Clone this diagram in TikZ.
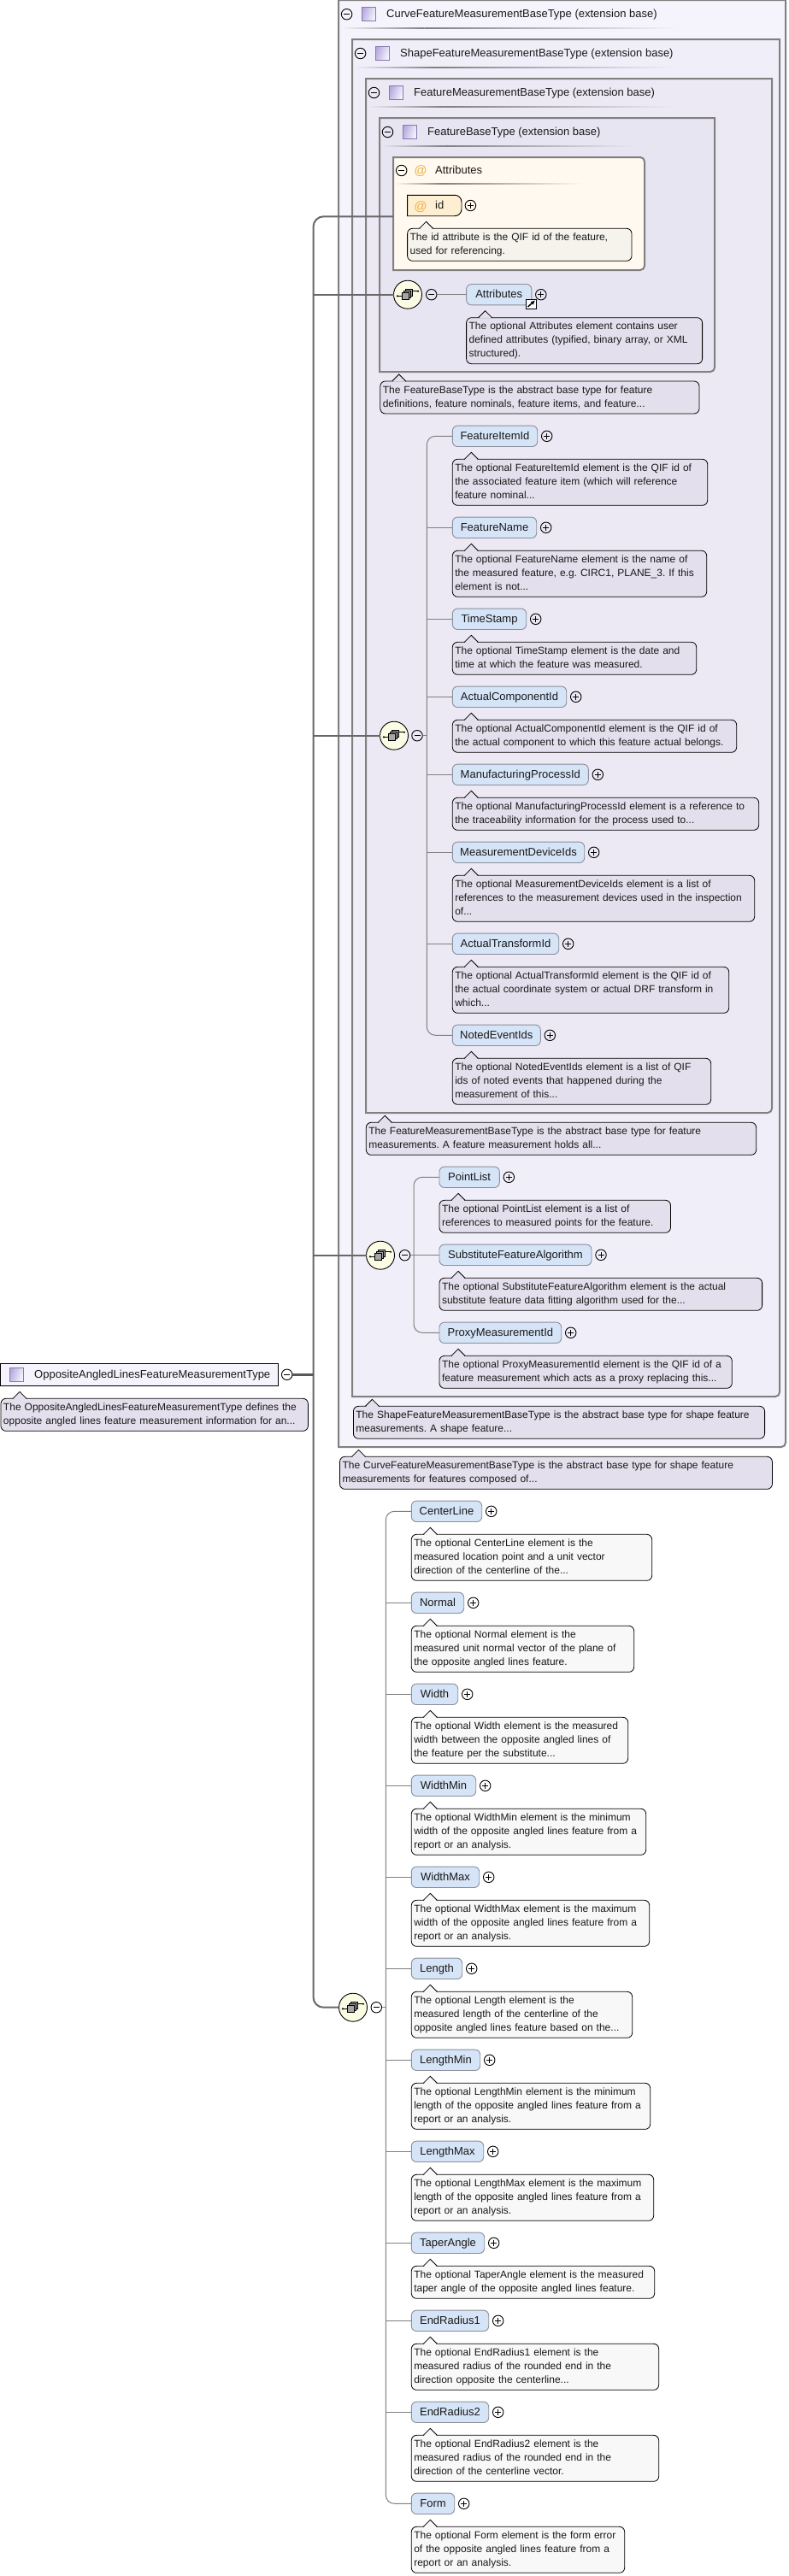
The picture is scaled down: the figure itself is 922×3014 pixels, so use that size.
\documentclass[tikz,border=0pt]{standalone}
\usepackage{amsmath, amsfonts, amssymb}
\usepackage{fontspec}
\setmainfont{Liberation Sans}
\frenchspacing
\usepackage{tikz}
\usetikzlibrary{arrows.meta,calc,positioning}

\definecolor{curvefill}{HTML}{F5F3FB}
\definecolor{shapefill}{HTML}{F0EEF8}
\definecolor{measurefill}{HTML}{ECE9F5}
\definecolor{basefill}{HTML}{E8E5F2}
\definecolor{attrfill}{HTML}{FFF9EF}
\definecolor{idfill}{HTML}{FEEED2}
\definecolor{elemfill}{HTML}{D6E4F7}
\definecolor{elemline}{HTML}{8A8F9A}
\definecolor{boxline}{HTML}{808080}
\definecolor{trunkline}{HTML}{686868}
\definecolor{seqfill}{HTML}{FCFCE4}
\definecolor{atcolor}{HTML}{F0B040}
\definecolor{notefill}{HTML}{E4DFEC}
\definecolor{iconline}{HTML}{8878B0}
\definecolor{icondark}{HTML}{B6A9DE}
\definecolor{iconlight}{HTML}{F6F4FC}

\tikzset{
    txt/.style={font=\fontsize{12}{16}\selectfont,text=black!90},
    headtext/.style={font=\fontsize{13}{16}\selectfont,text=black!90,anchor=west,inner sep=0pt,text height=10pt,text depth=2pt},
    minusbtn/.style={circle,draw=black,line width=0.9pt,minimum size=12.5pt,inner sep=0pt,
        path picture={\draw[line width=0.9pt] ([xshift=-3.5pt]path picture bounding box.center) -- ([xshift=3.5pt]path picture bounding box.center);}},
    plusbtn/.style={minusbtn,
        path picture={\draw[line width=0.9pt] ([xshift=-3.5pt]path picture bounding box.center) -- ([xshift=3.5pt]path picture bounding box.center);
            \draw[line width=0.9pt] ([yshift=-3.5pt]path picture bounding box.center) -- ([yshift=3.5pt]path picture bounding box.center);}},
    typeicon/.style={rectangle,draw=iconline,left color=icondark,right color=iconlight,shading angle=70,
        minimum size=16pt,inner sep=0pt},
    elembox/.style={headtext,rectangle,draw=elemline,fill=elemfill,rounded corners=6pt,line width=0.9pt,
        minimum height=24.4pt,inner xsep=0pt,inner ysep=0pt,outer sep=0pt},
    notebox/.style={txt,rectangle,draw=black,fill=notefill,rounded corners=6pt,line width=0.8pt,anchor=north west,
        inner xsep=3pt,inner ysep=3pt,outer sep=0pt,align=left,
        execute at begin node=\strut,execute at end node=\strut},
    noteline/.style={draw=black,line width=0.8pt},
    typebox/.style={draw=boxline,line width=2pt},
    seqnode/.style={circle,draw=black,fill=seqfill,line width=0.9pt,minimum size=33pt,inner sep=0pt,outer sep=0pt},
    trunk/.style={draw=trunkline,line width=2pt},
    rootstub/.style={draw=trunkline!85!black,line width=3.5pt},
    branch/.style={draw=boxline,line width=1pt},
    atsign/.style={font=\fontsize{15}{16}\selectfont,text=atcolor,inner sep=0pt},
    linkicon/.style={rectangle,draw=black,fill=white,line width=1pt,minimum width=12pt,minimum height=11pt,inner sep=0pt},
}

\newcommand{\Note}[5]{%
    \node[notebox,text width=#4-#2-6] (#1) at (#2,#3) {#5};
    \fill[notefill] ($(#1.north west)+(14.5,0.7)$) -- ++(7.5,-8.7) -- ++(7.5,8.7) -- cycle;
    \draw[noteline] ($(#1.north west)+(14,0)$) -- ++(8,-8) -- ++(8,8);
}
\newcommand{\Elem}[7]{%
    \node[elembox,minimum width=#5-#3] (#1) at (#3,#4) {#2};
    \node[plusbtn] (#1plus) at (#5+11,#4) {};
    \Note{#1note}{#3}{#4+27}{#6}{#7}
}
\newcommand{\HeadRule}[4]{%
    \shade[left color=#4,right color=black!50] (#1,#3-0.8) rectangle ({#1+0.25*(#2-#1)},#3+0.8);
    \shade[left color=black!50,right color=#4] ({#1+0.25*(#2-#1)},#3-0.8) rectangle (#2,#3+0.8);
}
\newcommand{\SeqIcon}[1]{%
    \begin{scope}[shift={(#1.center)}]
        \draw[line width=0.9pt] (-12,1.7) -- (-7,1.7);
        \fill (-12,1.7) circle (1.2);
        \draw[line width=0.9pt] (5,-4) -- (12,-4);
        \fill (12,-4) circle (1.2);
        \draw[line width=0.8pt,fill=black!35] (-3,-6.5) rectangle (5,2);
        \draw[line width=0.8pt,fill=black!35] (-5,-4.5) rectangle (3,4);
        \draw[line width=0.8pt,fill=black!35] (-7,-2.5) rectangle (1,6);
    \end{scope}
}

\begin{document}
\begin{tikzpicture}[x=1pt,y=-1pt]
    \useasboundingbox (0,0) rectangle (922,3014);
    \fill[white] (0,0) rectangle (922,3014);

    % nested extension boxes
    \draw[typebox,fill=curvefill] (396,0) -- (919,0) [rounded corners=5pt] -- (919,1693) [sharp corners] -- (396,1693) -- cycle;
    \draw[typebox,fill=shapefill] (412,46) -- (912,46) [rounded corners=5pt] -- (912,1634) [sharp corners] -- (412,1634) -- cycle;
    \draw[typebox,fill=measurefill] (428,92) -- (903,92) [rounded corners=5pt] -- (903,1302) [sharp corners] -- (428,1302) -- cycle;
    \draw[typebox,fill=basefill] (444,138) -- (836,138) [rounded corners=5pt] -- (836,435) [sharp corners] -- (444,435) -- cycle;
    \draw[typebox,fill=attrfill] (460,184) [rounded corners=5pt] -- (754,184) -- (754,316) [sharp corners] -- (460,316) -- cycle;

    \node[minusbtn] (curveminus) at (405.6,16.7) {};
    \node[typeicon] (curveicon) at (431,16.5) {};
    \node[headtext] (curvehead) at (452,16.7) {CurveFeatureMeasurementBaseType (extension base)};
    \HeadRule{398}{792}{33}{curvefill}
    \node[minusbtn] (shapeminus) at (421.6,62.5) {};
    \node[typeicon] (shapeicon) at (447,62.5) {};
    \node[headtext] (shapehead) at (468,62.5) {ShapeFeatureMeasurementBaseType (extension base)};
    \HeadRule{414}{789}{79}{shapefill}
    \node[minusbtn] (measureminus) at (437.5,108.5) {};
    \node[typeicon] (measureicon) at (463,108.5) {};
    \node[headtext] (measurehead) at (484,108.5) {FeatureMeasurementBaseType (extension base)};
    \HeadRule{430}{787}{125}{measurefill}
    \node[minusbtn] (baseminus) at (453.5,154.5) {};
    \node[typeicon] (baseicon) at (479,154.5) {};
    \node[headtext] (basehead) at (500,154.5) {FeatureBaseType (extension base)};
    \HeadRule{446}{740}{171}{basefill}

    % root type and its connectors
    \node[rectangle,draw=black,fill=curvefill,line width=0.9pt,anchor=west,minimum width=324.5pt,minimum height=26.4pt,
        inner sep=0pt,outer sep=0pt] (rootbox) at (0.5,1608.3) {};
    \node[typeicon] (rooticon) at (19,1608.3) {};
    \node[headtext] (roothead) at (40,1608.3) {OppositeAngledLinesFeatureMeasurementType};
    \node[minusbtn] (rootminus) at (335.7,1608.3) {};
    \coordinate (attrhook) at (460,253.3);
    \coordinate (trunkpt) at (366.5,1608.3);

    \node[seqnode] (seqone) at (477,344.7) {};
    \node[seqnode] (seqtwo) at (461,860.7) {};
    \node[seqnode] (seqthree) at (445,1468.7) {};
    \node[seqnode] (seqfour) at (413,2348.7) {};

    \draw[trunk,rounded corners=12pt] (attrhook) -| (trunkpt) |- (seqfour.west);
    \foreach \n in {seqone,seqtwo,seqthree}
        \draw[trunk] (\n.west) -- (\n.west -| trunkpt);
    \draw[rootstub] (rootminus.east) -- (trunkpt);

    \foreach \n in {seqone,seqtwo,seqthree,seqfour} {
        \SeqIcon{\n}
    }

    \Note{rootnote}{1}{1636.3}{360.4}{The OppositeAngledLinesFeatureMeasurementType defines the\\opposite angled lines feature measurement information for an...}

    % attributes
    \node[minusbtn] (attrminus) at (469.7,199.5) {};
    \node[atsign] (attrat) at (492,200.5) {@};
    \node[headtext] (attrhead) at (509,199.5) {Attributes};
    \HeadRule{462}{681}{215}{attrfill}
    \draw[draw=black,fill=idfill,line width=0.9pt] (476.6,228.3) [rounded corners=8pt] -- (540,228.3) -- (540,252.7) [sharp corners] -- (476.6,252.7) -- cycle;
    \node[atsign] (idat) at (492,242) {@};
    \node[headtext] (idhead) at (509,240.5) {id};
    \node[plusbtn] (idplus) at (550.4,240.5) {};
    \definecolor{notefill}{HTML}{F6F3EC}
    \Note{idnote}{476.6}{267.3}{739}{The id attribute is the QIF id of the feature,\\used for referencing.}
    \definecolor{notefill}{HTML}{E4DFEC}

    % base type element
    \node[minusbtn] (seqoneminus) at (504.7,344.7) {};
    \Elem{attributes}{Attributes}{545.6}{344.7}{621.8}{821.6}{The optional Attributes element contains user\\defined attributes (typified, binary array, or XML\\structured).}
    \draw[branch] (seqoneminus.east) -- (attributes.west);
    \node[linkicon] (attrlink) at (621.5,355.5) {};
    \draw[-{Latex[length=5pt,width=5pt]},line width=1.5pt] ([shift={(-4,3.5)}]attrlink.center) -- ([shift={(4.5,-4)}]attrlink.center);
    \Note{basenote}{444.8}{446}{818}{The FeatureBaseType is the abstract base type for feature\\definitions, feature nominals, feature items, and feature...}

    % measurement elements
    \node[minusbtn] (seqtwominus) at (488,860.7) {};
    \coordinate (trunktwo) at (499.3,860.7);
    \Elem{featureitemid}{FeatureItemId}{529.3}{510.3}{628.7}{827.7}{The optional FeatureItemId element is the QIF id of\\the associated feature item (which will reference\\feature nominal...}
    \Elem{featurename}{FeatureName}{529.3}{617.3}{627.7}{826.7}{The optional FeatureName element is the name of\\the measured feature, e.g. CIRC1, PLANE\_3. If this\\element is not...}
    \Elem{timestamp}{TimeStamp}{529.3}{724.3}{615.7}{814.7}{The optional TimeStamp element is the date and\\time at which the feature was measured.}
    \Elem{actualcomponentid}{ActualComponentId}{529.3}{815.3}{662.7}{861.7}{The optional ActualComponentId element is the QIF id of\\the actual component to which this feature actual belongs.}
    \Elem{manufacturingid}{ManufacturingProcessId}{529.3}{906.3}{688.3}{887.7}{The optional ManufacturingProcessId element is a reference to\\the traceability information for the process used to...}
    \Elem{deviceids}{MeasurementDeviceIds}{529.3}{997.3}{683.7}{882.7}{The optional MeasurementDeviceIds element is a list of\\references to the measurement devices used in the inspection\\of...}
    \Elem{transformid}{ActualTransformId}{529.3}{1104.3}{653.7}{852.7}{The optional ActualTransformId element is the QIF id of\\the actual coordinate system or actual DRF transform in\\which...}
    \Elem{eventids}{NotedEventIds}{529.3}{1211.3}{632.3}{831.7}{The optional NotedEventIds element is a list of QIF\\ids of noted events that happened during the\\measurement of this...}
    \draw[branch,rounded corners=10pt] (featureitemid.west) -| (trunktwo) |- (eventids.west);
    \draw[branch] (seqtwominus.east) -- (trunktwo);
    \foreach \n in {featurename,timestamp,actualcomponentid,manufacturingid,deviceids,transformid}
        \draw[branch] (\n.west) -- (\n.west -| trunktwo);
    \Note{measurenote}{428.3}{1313.3}{884.7}{The FeatureMeasurementBaseType is the abstract base type for feature\\measurements. A feature measurement holds all...}

    % shape elements
    \node[minusbtn] (seqthreeminus) at (473.5,1468.7) {};
    \coordinate (trunkthree) at (484,1468.7);
    \Elem{pointlist}{PointList}{514}{1377.3}{584.3}{784.5}{The optional PointList element is a list of\\references to measured points for the feature.}
    \Elem{algorithm}{SubstituteFeatureAlgorithm}{514}{1468.3}{692}{891.6}{The optional SubstituteFeatureAlgorithm element is the actual\\substitute feature data fitting algorithm used for the...}
    \Elem{proxyid}{ProxyMeasurementId}{514}{1559.3}{656.7}{856.3}{The optional ProxyMeasurementId element is the QIF id of a\\feature measurement which acts as a proxy replacing this...}
    \draw[branch,rounded corners=10pt] (pointlist.west) -| (trunkthree) |- (proxyid.west);
    \draw[branch] (seqthreeminus.east) -- (trunkthree);
    \draw[branch] (algorithm.west) -- (algorithm.west -| trunkthree);
    \Note{shapenote}{413.4}{1645.3}{894.6}{The ShapeFeatureMeasurementBaseType is the abstract base type for shape feature\\measurements. A shape feature...}
    \Note{curvenote}{397.5}{1704.3}{903.4}{The CurveFeatureMeasurementBaseType is the abstract base type for shape feature\\measurements for features composed of...}

    % opposite angled lines elements
    \definecolor{notefill}{HTML}{F8F8F8}
    \node[minusbtn] (seqfourminus) at (440.3,2348.7) {};
    \coordinate (trunkfour) at (451.3,2348.7);
    \Elem{centerline}{CenterLine}{481.3}{1768.3}{563.7}{762.7}{The optional CenterLine element is the\\measured location point and a unit vector\\direction of the centerline of the...}
    \Elem{normal}{Normal}{481.3}{1875.3}{542.7}{741.7}{The optional Normal element is the\\measured unit normal vector of the plane of\\the opposite angled lines feature.}
    \Elem{width}{Width}{481.3}{1982.3}{535.7}{734.7}{The optional Width element is the measured\\width between the opposite angled lines of\\the feature per the substitute...}
    \Elem{widthmin}{WidthMin}{481.3}{2089.3}{556.7}{755.7}{The optional WidthMin element is the minimum\\width of the opposite angled lines feature from a\\report or an analysis.}
    \Elem{widthmax}{WidthMax}{481.3}{2196.3}{560.7}{759.7}{The optional WidthMax element is the maximum\\width of the opposite angled lines feature from a\\report or an analysis.}
    \Elem{lengthel}{Length}{481.3}{2303.3}{540.7}{739.7}{The optional Length element is the\\measured length of the centerline of the\\opposite angled lines feature based on the...}
    \Elem{lengthmin}{LengthMin}{481.3}{2410.3}{561.7}{760.7}{The optional LengthMin element is the minimum\\length of the opposite angled lines feature from a\\report or an analysis.}
    \Elem{lengthmax}{LengthMax}{481.3}{2517.3}{565.7}{764.7}{The optional LengthMax element is the maximum\\length of the opposite angled lines feature from a\\report or an analysis.}
    \Elem{taperangle}{TaperAngle}{481.3}{2624.3}{566.7}{765.7}{The optional TaperAngle element is the measured\\taper angle of the opposite angled lines feature.}
    \Elem{radiusone}{EndRadius1}{481.3}{2715.3}{571.7}{770.7}{The optional EndRadius1 element is the\\measured radius of the rounded end in the\\direction opposite the centerline...}
    \Elem{radiustwo}{EndRadius2}{481.3}{2822.3}{571.7}{770.7}{The optional EndRadius2 element is the\\measured radius of the rounded end in the\\direction of the centerline vector.}
    \Elem{formel}{Form}{481.3}{2929.3}{531.7}{730.7}{The optional Form element is the form error\\of the opposite angled lines feature from a\\report or an analysis.}
    \draw[branch,rounded corners=10pt] (centerline.west) -| (trunkfour) |- (formel.west);
    \draw[branch] (seqfourminus.east) -- (trunkfour);
    \foreach \n in {normal,width,widthmin,widthmax,lengthel,lengthmin,lengthmax,taperangle,radiusone,radiustwo}
        \draw[branch] (\n.west) -- (\n.west -| trunkfour);
\end{tikzpicture}
\end{document}
